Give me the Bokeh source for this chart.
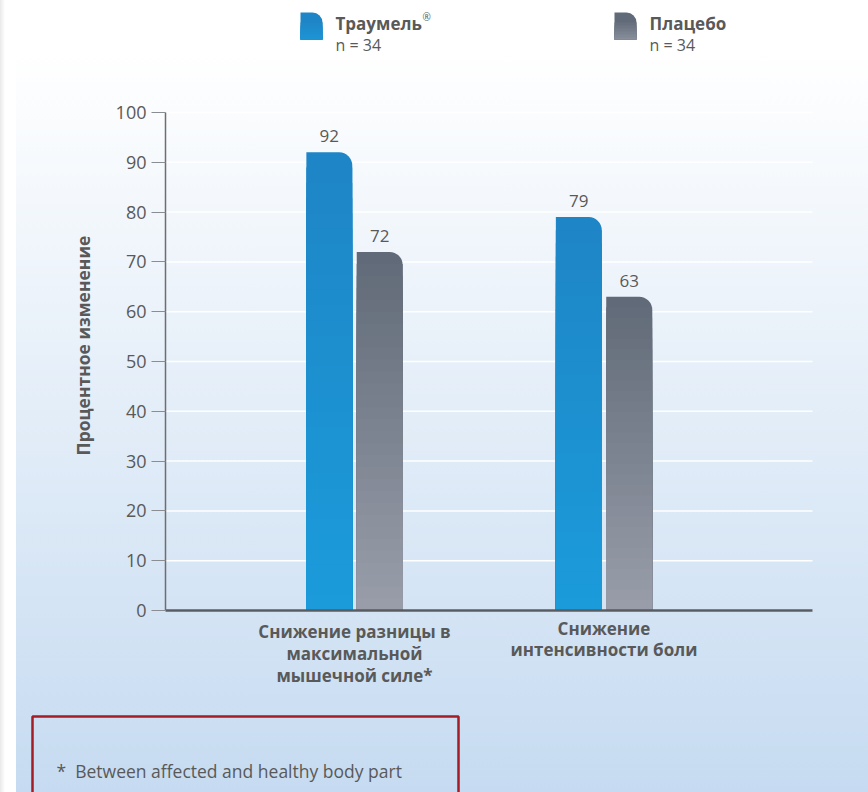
import math

from bokeh.plotting import figure
from bokeh.models import Range1d, FixedTicker, ColumnDataSource
from bokeh.core.properties import value
from bokeh.embed import file_html
from bokeh.resources import INLINE

# --- data -------------------------------------------------------------
categories = [["Снижение разницы в", "максимальной", "мышечной силе*"],
              ["Снижение", "интенсивности боли"]]
series_names = ["Траумель", "Плацебо"]
group_sizes = ["n = 34", "n = 34"]
traumeel = [92, 79]
placebo = [72, 63]
y_ticks = [0, 10, 20, 30, 40, 50, 60, 70, 80, 90, 100]
y_title = "Процентное изменение"
footnote = "*\u00a0\u00a0Between affected and healthy body part"

# --- layout (page pixels) ----------------------------------------------
W, H = 868, 792
AX_LEFT, AX_RIGHT = 165, 812      # horizontal extent of the axes
Y0_PX, Y100_PX = 610, 112         # pixel rows of 0 % and 100 %
GROUP1_PX, GROUP_STEP_PX = 354, 249.5

FONT = "Open Sans"
TEXT = "#595959"
BLUE_TOP, BLUE_BOTTOM = "#1e85c6", "#1b9bda"
GRAY_TOP, GRAY_BOTTOM = "#616a78", "#989da9"
BAR_W = 0.184
OFFSET = 0.101
STEPS = 30


def lerp(c1, c2, t):
    a = [int(c1[i:i + 2], 16) for i in (1, 3, 5)]
    b = [int(c2[i:i + 2], 16) for i in (1, 3, 5)]
    return "#" + "".join(f"{round(x + (y - x) * t):02x}" for x, y in zip(a, b))


# data ranges chosen so the frame fills the whole page
py_per_unit = (Y0_PX - Y100_PX) / 100.0
y_start = -(H - Y0_PX) / py_per_unit
y_end = y_start + H / py_per_unit
x_start = 1 - GROUP1_PX / GROUP_STEP_PX
x_end = x_start + W / GROUP_STEP_PX
x_ax_left = x_start + AX_LEFT / GROUP_STEP_PX
x_ax_right = x_start + AX_RIGHT / GROUP_STEP_PX

xs = list(range(1, len(categories) + 1))

p = figure(width=W, height=H, output_backend="svg", toolbar_location=None,
           x_range=Range1d(x_start, x_end), y_range=Range1d(y_start, y_end),
           min_border=0)
# page-pixel ranges for legend, titles and footnote (y measured upward)
p.extra_x_ranges = {"px": Range1d(0, W)}
p.extra_y_ranges = {"px": Range1d(0, H)}
p.background_fill_alpha = 0
p.border_fill_alpha = 0
p.outline_line_color = None
p.styles = {
    "background": "linear-gradient(to right, #e9e9e9 0px, #ffffff 5px, #ffffff 16px, rgba(255,255,255,0) 16px),"
                  "linear-gradient(to bottom, #ffffff 0px, #ffffff 50px, #c6dbf1 792px)"
}
p.xgrid.visible = False
p.ygrid.visible = False


def fy(py):
    return H - py


# horizontal gridlines between the axes
p.segment(x0=x_ax_left, x1=x_ax_right, y0=y_ticks, y1=y_ticks,
          line_color="white", line_width=1.5)

# y axis, pinned to the left edge of the plotting area
ya = p.yaxis[0]
ya.fixed_location = x_ax_left
ya.bounds = (y_ticks[0], y_ticks[-1])
ya.ticker = FixedTicker(ticks=y_ticks)
ya.axis_line_color = "#6b6e72"
ya.axis_line_width = 1.5
ya.major_tick_line_color = "#8a8d91"
ya.major_tick_out = 14
ya.major_tick_in = 0
ya.minor_tick_line_color = None
ya.major_label_standoff = 5
ya.major_label_text_font = FONT
ya.major_label_text_font_size = "18px"
ya.major_label_text_color = TEXT

# x axis, pinned to 0 %
xa = p.xaxis[0]
xa.fixed_location = 0
xa.bounds = (x_ax_left, x_ax_right)
xa.ticker = FixedTicker(ticks=[])
xa.axis_line_color = "#585c61"
xa.axis_line_width = 2.5
xa.major_tick_line_color = None
xa.minor_tick_line_color = None

# y title
p.text(x=[82], y=[fy(345)], text=[y_title], angle=math.pi / 2,
       x_range_name="px", y_range_name="px",
       text_align="center", text_baseline="middle",
       text_font=value(FONT), text_font_style="bold",
       text_font_size="17.5px", text_color=TEXT)

# category names below the axis, one row per line
cat_offsets = [[21, 43, 65], [18, 39]]
cx, cy, ct, co = [], [], [], []
for x, lines, offs in zip(xs, categories, cat_offsets):
    for line, o in zip(lines, offs):
        cx.append(x)
        cy.append(0)
        ct.append(line)
        co.append(o)
p.text(x="x", y="y", text="text", y_offset="off",
       source=ColumnDataSource(dict(x=cx, y=cy, text=ct, off=co)),
       text_align="center", text_baseline="alphabetic",
       text_font=value(FONT), text_font_style="bold",
       text_font_size="17px", text_color=TEXT)

# bars: rounded base bar plus stepped gradient overlays
series = [(-OFFSET, traumeel, BLUE_TOP, BLUE_BOTTOM),
          (OFFSET, placebo, GRAY_TOP, GRAY_BOTTOM)]
for off, vals, c_top, c_bot in series:
    bx = [x + off for x in xs]
    p.vbar(x=bx, top=vals, bottom=0, width=BAR_W, fill_color=c_top,
           line_color=None, border_radius=(0, 13, 0, 0))
    ox, otop, ocol = [], [], []
    for x, v in zip(bx, vals):
        for k in range(1, STEPS):
            ox.append(x)
            otop.append(v * (1 - k / STEPS))
            ocol.append(lerp(c_top, c_bot, k / (STEPS - 1)))
    p.vbar(x="x", top="top", bottom=0, width=BAR_W, fill_color="color",
           line_color=None,
           source=ColumnDataSource(dict(x=ox, top=otop, color=ocol)))
    p.text(x=bx, y=vals, text=[str(v) for v in vals], y_offset=-10,
           text_align="center", text_baseline="bottom",
           text_font=value(FONT), text_font_size="17px", text_color=TEXT)

# legend
legend_items = [(300, series_names[0], group_sizes[0], BLUE_TOP, BLUE_BOTTOM),
                (614, series_names[1], group_sizes[1], GRAY_TOP, GRAY_BOTTOM)]
for lx, name, n, c_top, c_bot in legend_items:
    top_px, bot_px = 12, 39
    p.quad(left=[lx], right=[lx + 22], top=[fy(top_px)], bottom=[fy(bot_px)],
           x_range_name="px", y_range_name="px",
           fill_color=c_top, line_color=None, border_radius=(0, 10, 0, 0))
    steps = 6
    p.quad(left=[lx] * steps, right=[lx + 22] * steps,
           top=[fy(top_px + 10 + 3 * k) for k in range(steps)],
           bottom=[fy(bot_px)] * steps,
           fill_color=[lerp(c_top, c_bot, (k + 1) / steps * 0.7) for k in range(steps)],
           x_range_name="px", y_range_name="px", line_color=None)
    p.text(x=[lx + 35], y=[fy(23)], text=[name],
           x_range_name="px", y_range_name="px",
           text_baseline="alphabetic", text_font=value(FONT),
           text_font_style="bold", text_font_size="17px", text_color=TEXT)
    p.text(x=[lx + 35], y=[fy(44)], text=[n],
           x_range_name="px", y_range_name="px",
           text_baseline="alphabetic", text_font=value(FONT),
           text_font_size="16px", text_color=TEXT)
p.text(x=[422], y=[fy(16)], text=["®"], x_range_name="px", y_range_name="px",
       text_baseline="alphabetic", text_font=value(FONT),
       text_font_size="10px", text_color=TEXT)

# footnote box
p.quad(left=[32], right=[458], top=[fy(716)], bottom=[fy(800)],
       x_range_name="px", y_range_name="px",
       fill_color=None, line_color="#a51c24", line_width=2.5)
p.text(x=[56], y=[fy(770)], text=[footnote], x_range_name="px", y_range_name="px",
       text_baseline="alphabetic", text_font=value(FONT),
       text_font_size="17.5px", text_color=TEXT)

open("out.html", "w").write(file_html(p, INLINE))
